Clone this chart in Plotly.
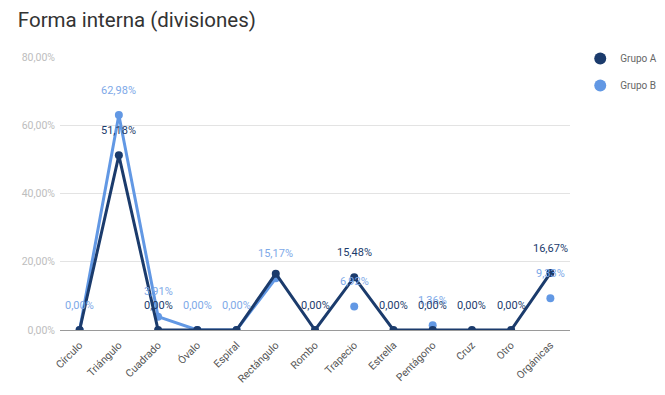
import plotly.graph_objects as go

categorias = ["Círculo", "Triángulo", "Cuadrado", "Óvalo", "Espiral", "Rectángulo", "Rombo",
              "Trapecio", "Estrella", "Pentágono", "Cruz", "Otro", "Orgánicas"]
grupo_a = [0, 51.18, 0, 0, 0, 16.5, 0, 15.48, 0, 0, 0, 0, 16.67]
grupo_b = [0, 62.98, 3.91, 0, 0, 15.17, None, 6.92, None, 1.36, None, None, 9.33]
etiquetas_a = [None, "51,18%", "0,00%", None, None, None, "0,00%", "15,48%", "0,00%", "0,00%", "0,00%", "0,00%", "16,67%"]
etiquetas_b = ["0,00%", "62,98%", "3,91%", "0,00%", "0,00%", "15,17%", None, "6,92%", None, "1,36%", None, None, "9,33%"]
y_ticks = [0, 20, 40, 60, 80]
y_tick_labels = ["0,00%", "20,00%", "40,00%", "60,00%", "80,00%"]

COL_A = "#1b3b6c"
COL_B = "#6298e4"

fig = go.Figure()
fig.add_trace(go.Scatter(x=categorias, y=grupo_b, mode="lines+markers", name="Grupo B",
                         line=dict(color=COL_B, width=3), marker=dict(size=8, color=COL_B),
                         connectgaps=False, showlegend=False))
fig.add_trace(go.Scatter(x=categorias, y=grupo_a, mode="lines+markers", name="Grupo A",
                         line=dict(color=COL_A, width=3), marker=dict(size=8, color=COL_A),
                         showlegend=False))
# legend entries (circle only)
fig.add_trace(go.Scatter(x=[None], y=[None], mode="markers", name="Grupo A", legendgroup="a",
                         marker=dict(size=11, color=COL_A)))
fig.add_trace(go.Scatter(x=[None], y=[None], mode="markers", name="Grupo B", legendgroup="b",
                         marker=dict(size=11, color=COL_B)))

for cat, val, lab in zip(categorias, grupo_b, etiquetas_b):
    if lab is not None and val is not None:
        fig.add_annotation(x=cat, y=val, text=lab, showarrow=False, yshift=25,
                           font=dict(size=11, color="#7ea9e8", family="Roboto"))
for cat, val, lab in zip(categorias, grupo_a, etiquetas_a):
    if lab is not None and val is not None:
        fig.add_annotation(x=cat, y=val, text=lab, showarrow=False, yshift=25,
                           font=dict(size=11, color="#1b3b6c", family="Roboto"))

fig.update_layout(
    width=657, height=387,
    paper_bgcolor="white", plot_bgcolor="white",
    separators=",.",
    margin=dict(l=52, r=95, t=49, b=65, autoexpand=False),
    font=dict(family="Roboto", color="#555"),
    title=dict(text="Forma interna (divisiones)", x=0.015, xanchor="left", y=0.969, yanchor="middle",
               font=dict(size=20.5, color="#333", family="Roboto")),
    legend=dict(xref="container", yref="container", x=0.871, y=0.907, xanchor="left", yanchor="top",
                font=dict(size=10, color="#666"),
                itemsizing="constant", tracegroupgap=8, bgcolor="rgba(0,0,0,0)"),
    xaxis=dict(type="category", range=[-0.5, 12.5], tickangle=-45, showgrid=False, automargin=False,
               tickfont=dict(size=10.5, color="#555"), ticks="", showline=False,
               ticklabelstandoff=6),
    yaxis=dict(range=[0, 80], tickvals=y_ticks, ticktext=y_tick_labels, automargin=False,
               gridcolor="#e3e3e3", zeroline=True, zerolinecolor="#9a9a9a", zerolinewidth=1,
               tickfont=dict(size=10.5, color="#bdbdbd"), ticks="", showline=False,
               ticklabelstandoff=4),
)

fig.write_html("out.html")
